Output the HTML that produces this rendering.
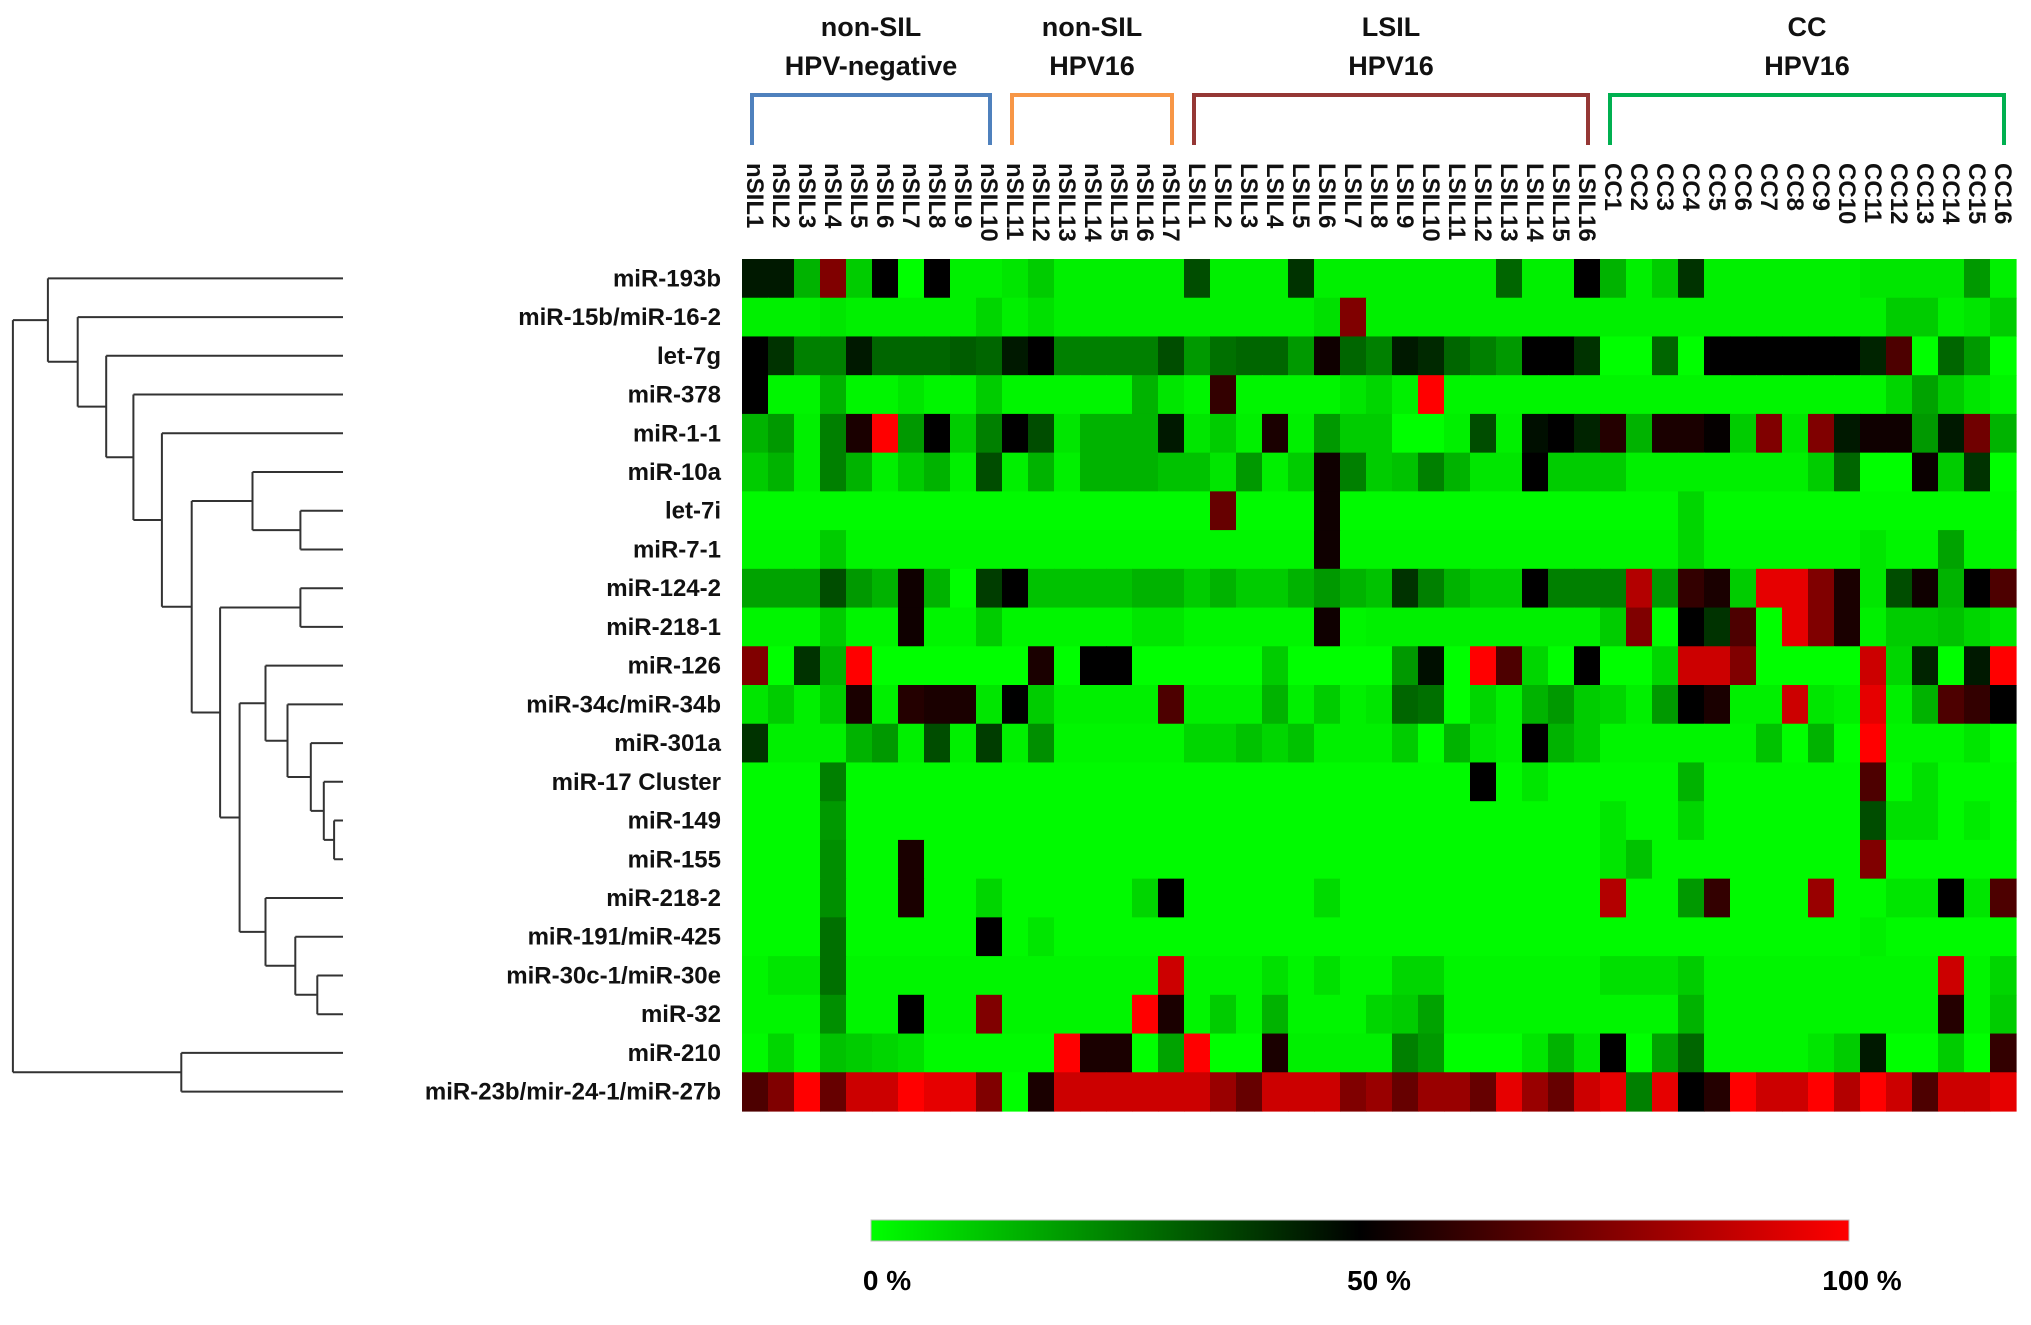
<!DOCTYPE html>
<html><head><meta charset="utf-8"><style>
html,body{margin:0;padding:0;background:#fff;}
svg{display:block;font-family:"Liberation Sans",sans-serif;font-weight:bold;}
</style></head><body>
<svg id="chartsvg" width="2031" height="1325" viewBox="0 0 2031 1325" xmlns="http://www.w3.org/2000/svg">
<defs><linearGradient id="cgrad" x1="0" x2="1" y1="0" y2="0"><stop offset="0" stop-color="#00ff00"/><stop offset="0.5" stop-color="#000"/><stop offset="1" stop-color="#ff0000"/></linearGradient></defs>
<g id="gDendro"></g>
<g id="gCells"></g>
<g id="gRowLab"></g>
<g id="gColLab"></g>
<g id="gGroups"></g>
<g>
<rect x="871" y="1220" width="978" height="21" fill="url(#cgrad)" stroke="#bbb" stroke-width="1"/>
<text x="887" y="1290" font-size="28" text-anchor="middle">0 %</text>
<text x="1379" y="1290" font-size="28" text-anchor="middle">50 %</text>
<text x="1862" y="1290" font-size="28" text-anchor="middle">100 %</text>
</g>
</svg>
<script>
var rowLabels = ["miR-193b","miR-15b/miR-16-2","let-7g","miR-378","miR-1-1","miR-10a","let-7i","miR-7-1","miR-124-2","miR-218-1","miR-126","miR-34c/miR-34b","miR-301a","miR-17 Cluster","miR-149","miR-155","miR-218-2","miR-191/miR-425","miR-30c-1/miR-30e","miR-32","miR-210","miR-23b/mir-24-1/miR-27b"];
var colLabels = ["nSIL1","nSIL2","nSIL3","nSIL4","nSIL5","nSIL6","nSIL7","nSIL8","nSIL9","nSIL10","nSIL11","nSIL12","nSIL13","nSIL14","nSIL15","nSIL16","nSIL17","LSIL1","LSIL2","LSIL3","LSIL4","LSIL5","LSIL6","LSIL7","LSIL8","LSIL9","LSIL10","LSIL11","LSIL12","LSIL13","LSIL14","LSIL15","LSIL16","CC1","CC2","CC3","CC4","CC5","CC6","CC7","CC8","CC9","CC10","CC11","CC12","CC13","CC14","CC15","CC16"];
var groupNames = [["non-SIL","HPV-negative"],["non-SIL","HPV16"],["LSIL","HPV16"],["CC","HPV16"]];
var groupStart = [0,10,17,33];
var groupEnd = [9,16,32,48];
var groupColors = ["#4f81bd","#f79646","#953735","#00b050"];
// values on 0..10 scale (0 = 0%, 5 = 50%, 10 = 100%)
var values = [
[4.5,4.5,1.5,7.5,1,5,0,5,0.3,0.3, 0.5,1,0.3,0.3,0.3,0.3,0.3,3.5,0.3,0.3, 0.3,4,0.3,0.3,0.3,0.3,0.3,0.3,0.3,3, 0.3,0.3,5,1.5,0.3,1,4,0.3,0.3,0.3, 0.3,0.3,0.3,0.5,0.5,0.5,0.5,2,0.3],
[0.3,0.3,0.3,0.5,0.3,0.3,0.3,0.3,0.3,0.8, 0.3,0.6,0.3,0.3,0.3,0.3,0.3,0.3,0.3,0.3, 0.3,0.3,0.6,7.5,0.3,0.3,0.3,0.3,0.3,0.3, 0.3,0.3,0.3,0.3,0.3,0.3,0.3,0.3,0.3,0.3, 0.3,0.3,0.3,0.3,1,1,0.3,0.5,1],
[5,4,2.5,2.5,4.5,3,3,3,3.2,3, 4.5,5,2.5,2.5,2.5,2.5,3.5,2,2.8,3, 3,2,5.3,3,2.5,4.5,4.2,3,2.5,2, 5,5,4,0,0,3,0,5,5,5, 5,5,5,4.3,6.5,0,3,2,0],
[5,0.2,0.2,1.5,0.2,0.2,0.5,0.2,0.2,1, 0.2,0.2,0.2,0.2,0.2,1.5,0.5,0.2,6,0.2, 0.2,0.2,0.2,0.5,0.8,0.3,10,0.2,0.2,0.2, 0.2,0.2,0.2,0.2,0.2,0.2,0.2,0.2,0.2,0.2, 0.2,0.2,0.2,0.2,0.8,1.8,1,0.5,0.2],
[1.5,2,0.3,2.5,5.5,10,2,5,1,2.5, 5,3.5,0.5,1.5,1.5,1.5,4.5,0.5,1,0.3, 5.5,0.3,2,1,1,0,0,0.3,3.5,0.3, 4.7,5,4.3,5.7,1.5,5.5,5.5,5.1,1,7.5, 0.5,7.5,4.5,5.3,5.3,2,4.5,7.2,1.5],
[1,1.5,0.3,2.5,1.5,0.3,1,1.5,0.3,3.5, 0.3,1.5,0.3,1.5,1.5,1.5,1.2,1.2,0.5,2, 0.3,1,5.3,2.5,1,1.2,2.5,1.5,0.5,0.5, 5,1,1,1,0.3,0.3,0.3,0.3,0.3,0.3, 0.3,1,3,0,0,5.2,1,4,0],
[0.1,0.1,0.1,0.1,0.1,0.1,0.1,0.1,0.1,0.1, 0.1,0.1,0.1,0.1,0.1,0.1,0.1,0.1,7,0.1, 0.1,0.1,5.3,0.1,0.1,0.1,0.1,0.1,0.1,0.1, 0.1,0.1,0.1,0.1,0.1,0.1,0.8,0.1,0.1,0.1, 0.1,0.1,0.1,0.1,0.1,0.1,0.1,0.1,0.1],
[0.2,0.2,0.2,1,0.2,0.2,0.2,0.2,0.2,0.2, 0.2,0.2,0.2,0.2,0.2,0.2,0.2,0.2,0.2,0.2, 0.2,0.2,5.3,0.2,0.2,0.2,0.2,0.2,0.2,0.2, 0.2,0.2,0.2,0.2,0.2,0.2,0.8,0.2,0.2,0.2, 0.2,0.2,0.2,0.5,0.2,0.2,1.8,0.2,0.2],
[1.8,1.8,1.8,3.5,2,1.5,5.3,1.5,0,3.8, 5,1.2,1.2,1.2,1.2,1.5,1.5,1,1.5,1, 1,1.5,2,1.5,1.2,4,2.5,1.5,1,1, 5,2.5,2.5,2.5,8.5,2,6,5.5,1,9.5, 9.5,7.5,5.5,0.5,3.5,5.3,1.5,5,6.5],
[0.2,0.2,0.2,1,0.2,0.2,5.3,0.2,0.2,1, 0.2,0.2,0.2,0.2,0.2,0.5,0.5,0.2,0.2,0.2, 0.2,0.2,5.3,0.2,0.3,0.3,0.3,0.3,0.3,0.3, 0.3,0.3,0.3,1,7.5,0,5,4,6.5,0, 9.5,7.5,5.5,0.3,1,1,1.2,0.8,0.5],
[7.5,0,4,1.5,10,0,0,0,0,0, 0,5.5,0,5,5,0,0,0,0,0, 1,0,0,0,0,2,4.7,0,10,6.5, 0.8,0,5,0,0,0.8,9,9,7.5,0, 0,0,0,9,0.8,4.3,0,4.5,10],
[0.5,1,0.3,1,5.5,0.3,5.7,5.5,5.5,0.5, 5,1,0.3,0.3,0.3,0.3,6.5,0.3,0.3,0.3, 1.5,0.3,1,0.3,0.5,3,2.8,0,0.8,0.3, 1.5,2,1,0.8,0.3,2,5,5.5,0.3,0.3, 9,0.5,0.3,9.5,0.3,1.5,6.5,6,5],
[4,0.3,0.3,0.3,1.5,2,0.3,3.5,0.3,3.8, 0.3,2.2,0.2,0.2,0.2,0.2,0.2,0.8,0.8,1.2, 0.8,1.2,0.3,0.3,0.3,1,0,1.5,0.5,0.3, 5,1.5,1,0.2,0.2,0.2,0.2,0.2,0.2,1.2, 0,1.5,0,10,0.2,0.2,0.2,0.5,0],
[0.1,0.1,0.1,2.5,0.1,0.1,0.1,0.1,0.1,0.1, 0.1,0.1,0.1,0.1,0.1,0.1,0.1,0.1,0.1,0.1, 0.1,0.1,0.1,0.1,0.1,0.1,0.1,0.1,5,0.1, 0.5,0.1,0.1,0.1,0.1,0.1,1.5,0.1,0.1,0.1, 0.1,0.1,0.1,6.5,0.1,0.6,0.1,0.1,0.1],
[0.1,0.1,0.1,2,0.1,0.1,0.1,0.1,0.1,0.1, 0.1,0.1,0.1,0.1,0.1,0.1,0.1,0.1,0.1,0.1, 0.1,0.1,0.1,0.1,0.1,0.1,0.1,0.1,0.1,0.1, 0.1,0.1,0.1,0.5,0.1,0.1,0.8,0.1,0.1,0.1, 0.1,0.1,0.1,3.5,0.6,0.6,0.1,0.4,0.1],
[0.1,0.1,0.1,2.2,0.1,0.1,5.5,0.1,0.1,0.1, 0.1,0.1,0.1,0.1,0.1,0.1,0.1,0.1,0.1,0.1, 0.1,0.1,0.1,0.1,0.1,0.1,0.1,0.1,0.1,0.1, 0.1,0.1,0.1,0.5,1.2,0.1,0.1,0.1,0.1,0.1, 0.1,0.1,0.1,7.5,0.1,0.1,0.1,0.1,0.1],
[0.1,0.1,0.1,2.2,0.1,0.1,5.5,0.1,0.1,0.8, 0.1,0.1,0.1,0.1,0.1,0.8,5,0.1,0.1,0.1, 0.1,0.1,0.7,0.1,0.1,0.1,0.1,0.1,0.1,0.1, 0.1,0.1,0.1,8.5,0.1,0.1,2,6,0.1,0.1, 0.1,8,0.1,0.1,0.5,0.5,5,0.5,6.5],
[0.1,0.1,0.1,2.8,0.1,0.1,0.1,0.1,0.1,5, 0.1,0.5,0.1,0.1,0.1,0.1,0.1,0.1,0.1,0.1, 0.1,0.1,0.1,0.1,0.1,0.1,0.1,0.1,0.1,0.1, 0.1,0.1,0.1,0.1,0.1,0.1,0.1,0.1,0.1,0.1, 0.1,0.1,0.1,0.3,0.1,0.1,0.1,0.1,0.1],
[0.2,0.5,0.5,2.8,0.2,0.2,0.2,0.2,0.2,0.2, 0.2,0.2,0.2,0.2,0.2,0.2,9,0.2,0.2,0.2, 0.6,0.2,0.6,0.2,0.2,0.8,0.8,0.2,0.2,0.2, 0.2,0.2,0.2,0.6,0.6,0.6,1,0.2,0.2,0.2, 0.2,0.2,0.2,0.2,0.2,0.2,9,0.2,0.8],
[0.2,0.2,0.2,2.2,0.2,0.2,5,0.2,0.2,7.5, 0.2,0.2,0.2,0.2,0.2,10,5.5,0.2,1,0.2, 1.5,0.2,0.2,0.2,0.8,1,1.8,0.2,0.2,0.2, 0.2,0.2,0.2,0.2,0.2,0.2,1.5,0.2,0.2,0.2, 0.2,0.2,0.2,0.2,0.2,0.2,5.7,0.2,1],
[0.1,0.8,0.1,1.2,1,0.8,0.6,0.1,0.1,0.1, 0.1,0.1,10,5.5,5.5,0,1.8,10,0,0, 5.5,0.3,0.3,0.3,0.3,2.5,2,0,0,0, 0.5,1.5,0.5,5,0,1.8,3,0.2,0.2,0.2, 0.2,0.5,1,4.5,0,0,1,0,6],
[6.5,7.5,10,7,9,9,10,9.5,9.5,7.5, 0,5.5,9,9,9,9,9,9,8,7, 9,9,9,7.5,8,7,8,8,7,9.5, 8,7,9,9.5,2.5,9.5,5,5.7,10,9, 9,10,8.5,10,9,6.5,9,9,9.5]
];
// dendrogram merges: [nodeX (display px), childA, childB]; children are "r<row>" or "n<mergeIndex>"
var merges = [
 [258,"r14","r15"],
 [250,"r13","n0"],
 [240,"r12","n1"],
 [222,"r11","n2"],
 [205,"r10","n3"],
 [245,"r18","r19"],
 [228,"r17","n5"],
 [205,"r16","n6"],
 [185,"n4","n7"],
 [232,"r8","r9"],
 [170,"n9","n8"],
 [232,"r6","r7"],
 [195,"r5","n11"],
 [148,"n12","n10"],
 [125,"r4","n13"],
 [103,"r3","n14"],
 [82,"r2","n15"],
 [60,"r1","n16"],
 [37,"r0","n17"],
 [140,"r20","r21"],
 [10,"n18","n19"]
];
(function(){
var SVGNS="http://www.w3.org/2000/svg";
var gx0=742, gx1=2016, gy0=259, gy1=1111;
var cw=(gx1-gx0)/colLabels.length, rh=(gy1-gy0)/rowLabels.length;
function xPos(i){return gx0+i*cw;}
function yPos(j){return gy0+j*rh;}
function heatColor(v){v=Math.max(0,Math.min(10,v));
 if(v<=5){return "rgb(0,"+Math.round(255*(1-v/5))+",0)";}
 return "rgb("+Math.round(255*(v-5)/5)+",0,0)";}
function mk(tag,attrs,parent){var e=document.createElementNS(SVGNS,tag);for(var k in attrs){e.setAttribute(k,String(attrs[k]));}parent.appendChild(e);return e;}
var gCells=document.getElementById('gCells');
for(var j=0;j<values.length;j++){for(var i=0;i<values[j].length;i++){
 var r=mk('rect',{x:xPos(i).toFixed(2),y:yPos(j).toFixed(2),width:(cw+0.6).toFixed(2),height:(rh+0.6).toFixed(2),fill:heatColor(values[j][i])},gCells);
 
 
}}
var gRow=document.getElementById('gRowLab');
for(var j2=0;j2<rowLabels.length;j2++){
 var t=mk('text',{x:721,y:(yPos(j2)+rh/2+8).toFixed(1),'font-size':24,'text-anchor':'end',fill:'#111'},gRow);
 t.textContent=rowLabels[j2];
 
 
}
var gCol=document.getElementById('gColLab');
for(var i2=0;i2<colLabels.length;i2++){
 var cx=xPos(i2)+cw/2;
 var t2=mk('text',{x:0,y:0,'font-size':24,fill:'#111',transform:'translate('+(cx-8).toFixed(1)+',163) rotate(90)'},gCol);
 t2.textContent=colLabels[i2];
 
 
}
var gGrp=document.getElementById('gGroups');
for(var k=0;k<groupNames.length;k++){
 var xa=xPos(groupStart[k])+10, xb=xPos(groupEnd[k]+1)-12, mx=(xa+xb)/2;
 var p=mk('path',{d:'M'+xa+',145 L'+xa+',95 L'+xb+',95 L'+xb+',145',fill:'none',stroke:groupColors[k],'stroke-width':4},gGrp);
 
 
 for(var li=0;li<groupNames[k].length;li++){
  var t3=mk('text',{x:mx.toFixed(1),y:36+li*39,'font-size':27,'text-anchor':'middle',fill:'#111'},gGrp);
  t3.textContent=groupNames[k][li];
  
  
 }
}
var gDen=document.getElementById('gDendro');
var SC=1.295, leafX=343;
var pos=[];
function ref(s){
 var n=parseInt(s.slice(1),10);
 if(s.charAt(0)==='r'){return {x:leafX,y:yPos(n)+rh/2};}
 return pos[n];
}
var dp='';
for(var m=0;m<merges.length;m++){
 var nx=merges[m][0]*SC, A=ref(merges[m][1]), B=ref(merges[m][2]);
 dp+='M'+nx.toFixed(1)+','+A.y.toFixed(1)+' L'+A.x.toFixed(1)+','+A.y.toFixed(1)+' ';
 dp+='M'+nx.toFixed(1)+','+B.y.toFixed(1)+' L'+B.x.toFixed(1)+','+B.y.toFixed(1)+' ';
 dp+='M'+nx.toFixed(1)+','+A.y.toFixed(1)+' L'+nx.toFixed(1)+','+B.y.toFixed(1)+' ';
 pos.push({x:nx,y:(A.y+B.y)/2});
}
var dpath=mk('path',{d:dp,fill:'none',stroke:'#333','stroke-width':2},gDen);


})();
</script>
</body></html>
